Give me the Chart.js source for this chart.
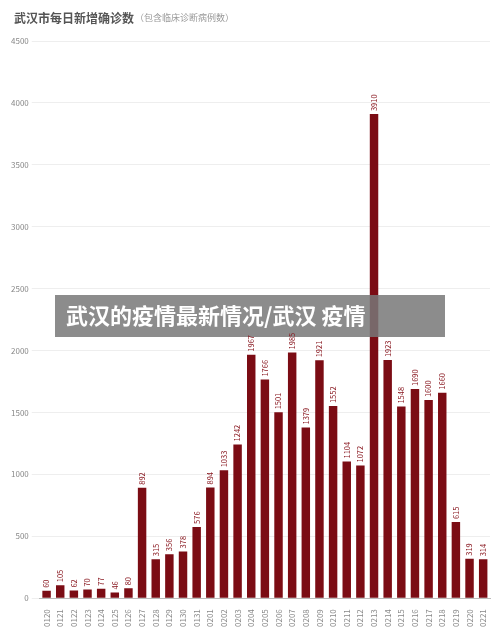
<!DOCTYPE html>
<html><head><meta charset="utf-8">
<script src="https://cdn.jsdelivr.net/npm/chart.js@4"></script>
<style>html,body{margin:0;padding:0;background:#fff}#w{width:500px;height:632px}</style>
</head><body><div id="w"><canvas id="c"></canvas></div>
<script>
const dates=["0120","0121","0122","0123","0124","0125","0126","0127","0128","0129","0130","0131","0201","0202","0203","0204","0205","0206","0207","0208","0209","0210","0211","0212","0213","0214","0215","0216","0217","0218","0219","0220","0221"];
const cases=[60,105,62,70,77,46,80,892,315,356,378,576,894,1033,1242,1967,1766,1501,1985,1379,1921,1552,1104,1072,3910,1923,1548,1690,1600,1660,615,319,314];
const yTicks=[0,500,1000,1500,2000,2500,3000,3500,4000,4500];
const FF='"Noto Sans CJK SC","Noto Sans",sans-serif';
const deco={id:'deco',afterDraw(ch){const c=ch.ctx;c.save();
c.textBaseline='middle';c.font='bold 12px '+FF;c.fillStyle='#555';c.fillText('武汉市每日新增确诊数',14,18);
const w=c.measureText('武汉市每日新增确诊数').width;c.font='9px '+FF;c.fillStyle='#999';c.fillText('（包含临床诊断病例数）',14+w+1,18);
c.fillStyle='rgba(120,120,120,0.85)';c.fillRect(55,295,390,42);
c.font='bold 22px '+FF;c.fillStyle='#fff';c.fillText('武汉的疫情最新情况/武汉 疫情',66,316);
const m=ch.getDatasetMeta(0);c.font='7.5px '+FF;c.fillStyle='#8a1a22';c.textAlign='left';
m.data.forEach((b,i)=>{c.save();c.translate(b.x,b.y-3);c.rotate(-Math.PI/2);c.fillText(String(cases[i]),0,0);c.restore();});
c.restore();}};
new Chart(document.getElementById('c'),{type:'bar',data:{labels:dates,datasets:[{data:cases,backgroundColor:'#7b0c14',barPercentage:0.62,categoryPercentage:1}]},
options:{responsive:true,maintainAspectRatio:false,animation:false,layout:{padding:{top:41,right:10,left:8,bottom:2}},
plugins:{legend:{display:false},tooltip:{enabled:false}},
scales:{y:{min:0,max:4500,afterBuildTicks(a){a.ticks=yTicks.map(v=>({value:v}));},border:{display:false},grid:{color:'#eee'},ticks:{color:'#888',font:{size:8,family:FF},callback:v=>String(v)}},
x:{grid:{display:false},border:{color:'#bbb'},ticks:{color:'#888',font:{size:8,family:FF},minRotation:90,maxRotation:90,autoSkip:false}}}},plugins:[deco]});
</script></body></html>
